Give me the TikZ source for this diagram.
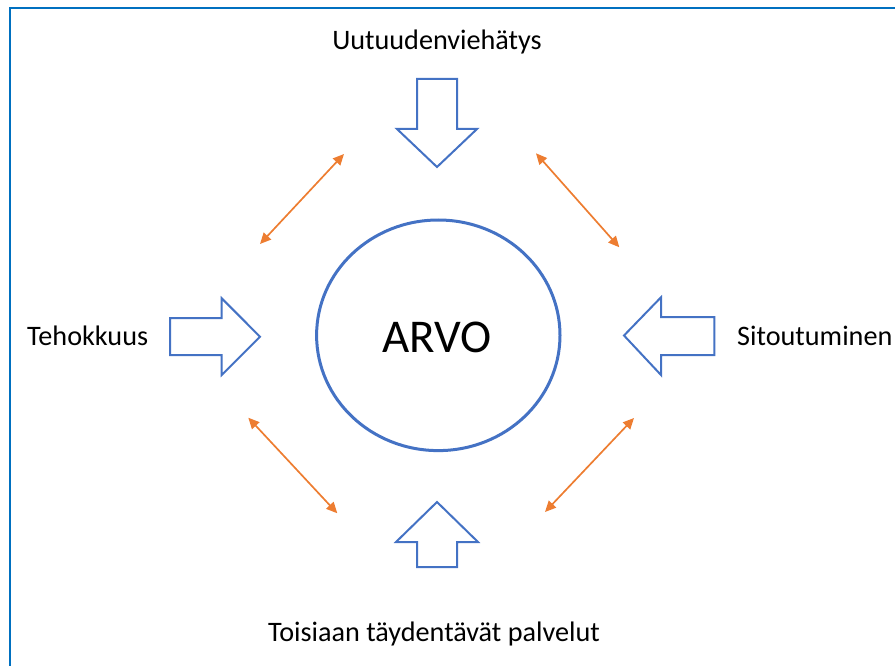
\documentclass[tikz,border=0pt]{standalone}
\usepackage{fontspec}
\setmainfont{Carlito}
\usetikzlibrary{arrows.meta}
\definecolor{frameblue}{RGB}{0,112,192}
\definecolor{accentblue}{RGB}{68,114,196}
\definecolor{accentorange}{RGB}{237,125,49}
\tikzset{
  blockarrow/.style={draw=accentblue, line width=2pt, fill=white, line join=miter},
  linkarrow/.style={draw=accentorange, line width=1.7pt, {Triangle[length=11pt,width=10pt]}-{Triangle[length=11pt,width=10pt]}},
  label/.style={font=\fontsize{28.2}{31}\selectfont, inner sep=0pt},
}
\begin{document}
\begin{tikzpicture}[x=1pt, y=-1pt]
\useasboundingbox (0,0) rectangle (895,666);
% frame
\draw[frameblue, line width=2pt] (10,666) -- (10,8) -- (895,8);

% central value circle
\draw[accentblue, line width=3pt] (438.3,335.3) ellipse [x radius=121.7, y radius=115.3];
\node[font=\fontsize{47}{50}\selectfont, inner sep=0pt, anchor=base] (arvo) at (437,352.7) {ARVO};

% labels
\node[label, anchor=base] (uutuus) at (437,50) {Uutuudenviehätys};
\node[label, anchor=base west] (teho) at (27,345) {Tehokkuus};
\node[label, anchor=base west] (sito) at (737,345) {Sitoutuminen};
\node[label, anchor=base] (palv) at (434,641) {Toisiaan täydentävät palvelut};

% block arrows pointing at the circle
\draw[blockarrow] (417,79) -- (457,79) -- (457,129) -- (477,129) -- (437,167) -- (397,129) -- (417,129) -- cycle;
\draw[blockarrow] (417,567) -- (457,567) -- (457,542) -- (478,542) -- (437,502) -- (396,542) -- (417,542) -- cycle;
\draw[blockarrow] (170,318) -- (221.7,318) -- (221.7,298.3) -- (260,336.7) -- (221.7,375) -- (221.7,355) -- (170,355) -- cycle;
\draw[blockarrow] (714.3,317) -- (661,317) -- (661,297.3) -- (624,335.5) -- (661,375) -- (661,355) -- (714.3,355) -- cycle;

% links between neighbouring factors
\coordinate (tlA) at (344,154);
\coordinate (tlB) at (260,244);
\coordinate (trA) at (536,153.3);
\coordinate (trB) at (619.3,247.3);
\coordinate (blA) at (248.3,417.7);
\coordinate (blB) at (337.3,513.3);
\coordinate (brA) at (545,512);
\coordinate (brB) at (634,418);
\draw[linkarrow] (tlA) -- (tlB);
\draw[linkarrow] (trA) -- (trB);
\draw[linkarrow] (blA) -- (blB);
\draw[linkarrow] (brA) -- (brB);
\end{tikzpicture}
\end{document}
